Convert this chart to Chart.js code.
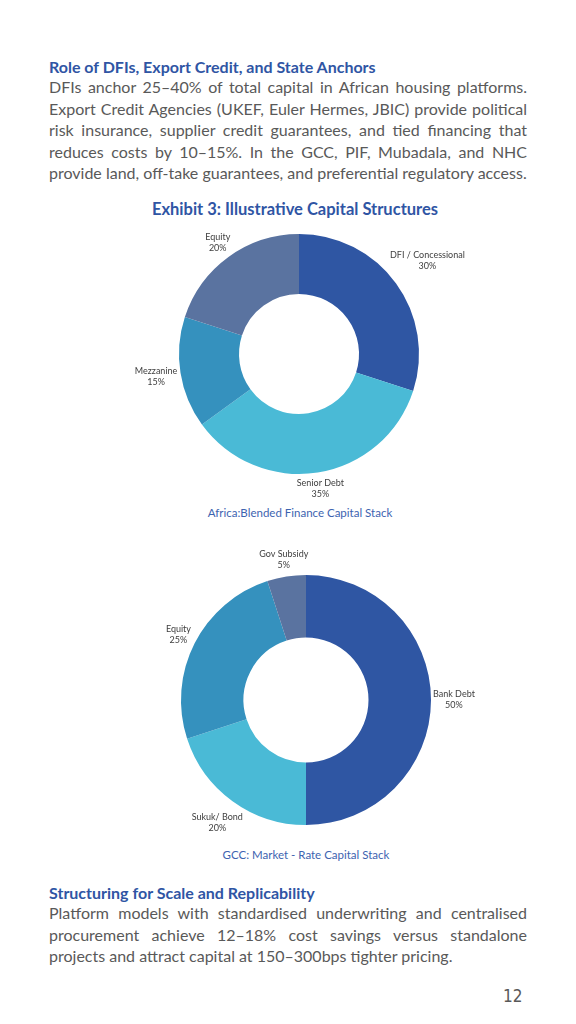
<!DOCTYPE html>
<html><head><meta charset="utf-8">
<script src="https://cdn.jsdelivr.net/npm/chart.js@4/dist/chart.umd.min.js"></script>
<style>
html,body{margin:0;padding:0;background:#fff;}
body{width:576px;height:1024px;position:relative;overflow:hidden;font-family:Lato,"Open Sans",sans-serif;}
.h{position:absolute;left:49px;color:#2F55A4;font-weight:bold;font-size:16px;}
.p{position:absolute;left:49px;width:478px;color:#595959;font-size:16px;line-height:21.5px;text-align:justify;}
.ex{position:absolute;left:0;width:590px;text-align:center;color:#2F55A4;font-weight:bold;font-size:16.5px;}
.sub{position:absolute;color:#3D63B0;font-size:11.5px;text-align:center;}
.cw{position:absolute;}
.pg{position:absolute;left:503px;top:986px;color:#595959;font-size:17px;font-family:"Liberation Sans Narrow","DejaVu Sans Condensed",sans-serif;}
</style></head>
<body>
<div class="h" style="top:57px;">Role of DFIs, Export Credit, and State Anchors</div>
<div class="p" style="top:76px;">DFIs anchor 25–40% of total capital in African housing platforms. Export Credit Agencies (UKEF, Euler Hermes, JBIC) provide political risk insurance, supplier credit guarantees, and tied financing that reduces costs by 10–15%. In the GCC, PIF, Mubadala, and NHC provide land, off-take guarantees, and preferential regulatory access.</div>
<div class="ex" style="top:199px;">Exhibit 3: Illustrative Capital Structures</div>
<div class="sub" style="left:150px;width:300px;top:506px;">Africa:Blended Finance Capital Stack</div>
<div class="sub" style="left:156px;width:300px;top:848px;">GCC: Market - Rate Capital Stack</div>
<div class="cw" style="left:99px;top:214px;width:400px;height:300px;"><canvas id="c1"></canvas></div>
<div class="cw" style="left:96px;top:540px;width:420px;height:320px;"><canvas id="c2"></canvas></div>
<div class="h" style="top:883px;">Structuring for Scale and Replicability</div>
<div class="p" style="top:902px;">Platform models with standardised underwriting and centralised procurement achieve 12–18% cost savings versus standalone projects and attract capital at 150–300bps tighter pricing.</div>
<div class="pg">12</div>
<script>
const africaLabels = ["DFI / Concessional", "Senior Debt", "Mezzanine", "Equity"];
const africaValues = [30, 35, 15, 20];
const gccLabels = ["Bank Debt", "Sukuk/ Bond", "Equity", "Gov Subsidy"];
const gccValues = [50, 20, 25, 5];
const africaColors = ["#2F56A3", "#4ABAD6", "#3591BE", "#5A73A0"];
const gccColors = ["#2F56A3", "#4ABAD6", "#3591BE", "#5A73A0"];

const outsideLabels = {
  id: 'outsideLabels',
  afterDraw(chart) {
    const ctx = chart.ctx;
    const meta = chart.getDatasetMeta(0);
    const data = chart.data.datasets[0].data;
    const total = data.reduce((a, b) => a + b, 0);
    ctx.save();
    ctx.font = '9px Lato, "Open Sans", sans-serif';
    ctx.fillStyle = '#404040';
    ctx.textAlign = 'center';
    ctx.textBaseline = 'middle';
    const lh = 11;
    meta.data.forEach((arc, i) => {
      const p = arc.getProps(['x', 'y', 'startAngle', 'endAngle', 'outerRadius'], true);
      const mid = (p.startAngle + p.endAngle) / 2;
      const dx = Math.cos(mid), dy = Math.sin(mid);
      const l1 = chart.data.labels[i];
      const l2 = Math.round(data[i] / total * 100) + '%';
      const w = Math.max(ctx.measureText(l1).width, ctx.measureText(l2).width);
      const hw = w / 2, hh = lh;
      const ext = Math.abs(dx) * hw + Math.abs(dy) * hh;
      const r = p.outerRadius + 2 + ext;
      const cx = p.x + dx * r, cy = p.y + dy * r;
      ctx.fillText(l1, cx, cy - lh / 2);
      ctx.fillText(l2, cx, cy + lh / 2);
    });
    ctx.restore();
  }
};

function makeChart(id, labels, values, colors, pad) {
  new Chart(document.getElementById(id), {
    type: 'doughnut',
    data: { labels: labels, datasets: [{ data: values, backgroundColor: colors, borderWidth: 0 }] },
    options: {
      responsive: true, maintainAspectRatio: false, animation: false,
      cutout: '50%',
      layout: { padding: pad },
      plugins: { legend: { display: false }, tooltip: { enabled: false } }
    },
    plugins: [outsideLabels]
  });
}
makeChart('c1', africaLabels, africaValues, africaColors, { top: 20, bottom: 40, left: 80, right: 80 });
makeChart('c2', gccLabels, gccValues, gccColors, { top: 35, bottom: 35, left: 85, right: 85 });
</script>
</body></html>
